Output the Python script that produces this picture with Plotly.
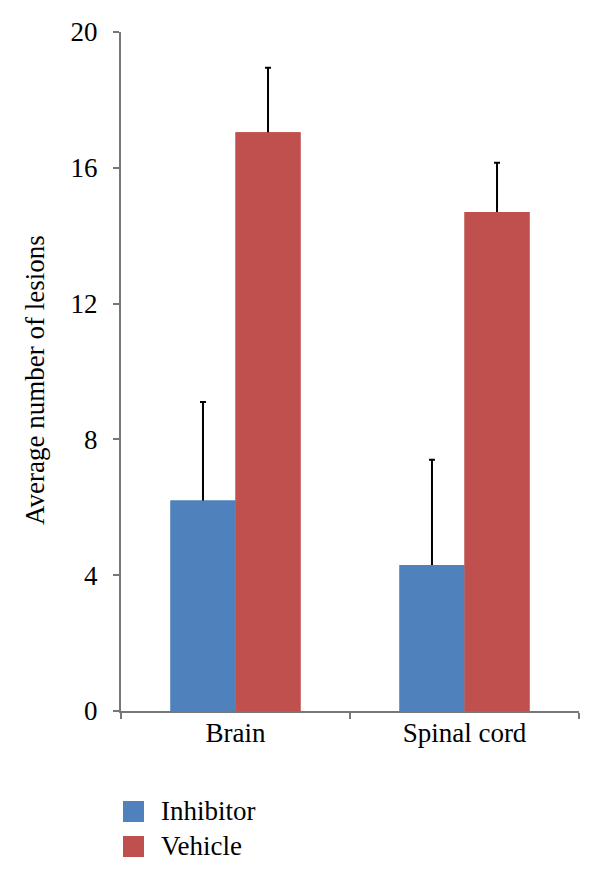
import plotly.graph_objects as go

categories = ["Brain", "Spinal cord"]
series_names = ["Inhibitor", "Vehicle"]
inhibitor = [6.2, 4.3]
inhibitor_err = [2.9, 3.1]
vehicle = [17.05, 14.7]
vehicle_err = [1.9, 1.45]
y_ticks = [0, 4, 8, 12, 16, 20]
colors = ["#4F81BD", "#C0504D"]

FONT = "Liberation Serif"
FS = 27
AXIS_COLOR = "#777777"

W, H = 600, 885
L, R, T, B = 121, 21, 32, 174
pw, ph = W - L - R, H - T - B


def px_to_paper_x(px):
    return (px - L) / pw


def px_to_paper_y(py):
    return (H - B - py) / ph


fig = go.Figure()
groups = [
    (series_names[0], inhibitor, inhibitor_err, colors[0], "g0"),
    (series_names[1], vehicle, vehicle_err, colors[1], "g1"),
]
# bars with upward error bars (lower cap hidden inside the bar)
for name, vals, errs, col, grp in groups:
    fig.add_trace(go.Bar(
        x=categories, y=vals, name=name, offsetgroup=grp,
        marker=dict(color=col, line=dict(width=0)),
        error_y=dict(type="data", symmetric=False, array=errs,
                     arrayminus=[0.3] * len(errs), color="black",
                     thickness=2, width=3),
        showlegend=False,
    ))
# same bars redrawn on top to cover the lower part of the error bars
for name, vals, errs, col, grp in groups:
    fig.add_trace(go.Bar(
        x=categories, y=vals, name=name, offsetgroup=grp,
        marker=dict(color=col, line=dict(width=0)),
        showlegend=False, hoverinfo="skip",
    ))

# legend drawn as shapes + text
legend_rows = [(801, 822), (836, 857)]
for (y0, y1), name, col in zip(legend_rows, series_names, colors):
    fig.add_shape(type="rect", xref="paper", yref="paper",
                  x0=px_to_paper_x(123), x1=px_to_paper_x(144),
                  y0=px_to_paper_y(y1), y1=px_to_paper_y(y0),
                  fillcolor=col, line=dict(width=0))
    fig.add_annotation(text=name, xref="paper", yref="paper",
                       x=px_to_paper_x(159), y=px_to_paper_y((y0 + y1) / 2 - 1),
                       xanchor="left", yanchor="middle", showarrow=False,
                       font=dict(family=FONT, size=FS, color="black"))

fig.add_annotation(text="Average number of lesions", xref="paper", yref="paper",
                   x=px_to_paper_x(35), y=px_to_paper_y(380), textangle=-90,
                   xanchor="center", yanchor="middle", showarrow=False,
                   font=dict(family=FONT, size=FS, color="black"))

fig.update_layout(
    width=W, height=H,
    margin=dict(l=L, r=R, t=T, b=B, pad=0),
    paper_bgcolor="white", plot_bgcolor="white",
    barmode="group", bargap=0.432, bargroupgap=0,
    font=dict(family=FONT, size=FS, color="black"),
    xaxis=dict(showline=True, linecolor=AXIS_COLOR, linewidth=2,
               ticks="outside", tickson="boundaries", ticklen=6,
               tickcolor=AXIS_COLOR, tickwidth=2, showgrid=False,
               ticklabelstandoff=-3,
               tickfont=dict(family=FONT, size=FS, color="black")),
    yaxis=dict(range=[0, 20], tickvals=y_ticks, showline=True,
               linecolor=AXIS_COLOR, linewidth=2, ticks="outside",
               ticklen=6, tickcolor=AXIS_COLOR, tickwidth=2,
               showgrid=False, zeroline=False, ticklabelstandoff=10,
               tickfont=dict(family=FONT, size=FS, color="black")),
)

fig.write_html("out.html", config={"displayModeBar": False},
               post_script="document.body.style.margin='0';document.body.style.padding='0';")
